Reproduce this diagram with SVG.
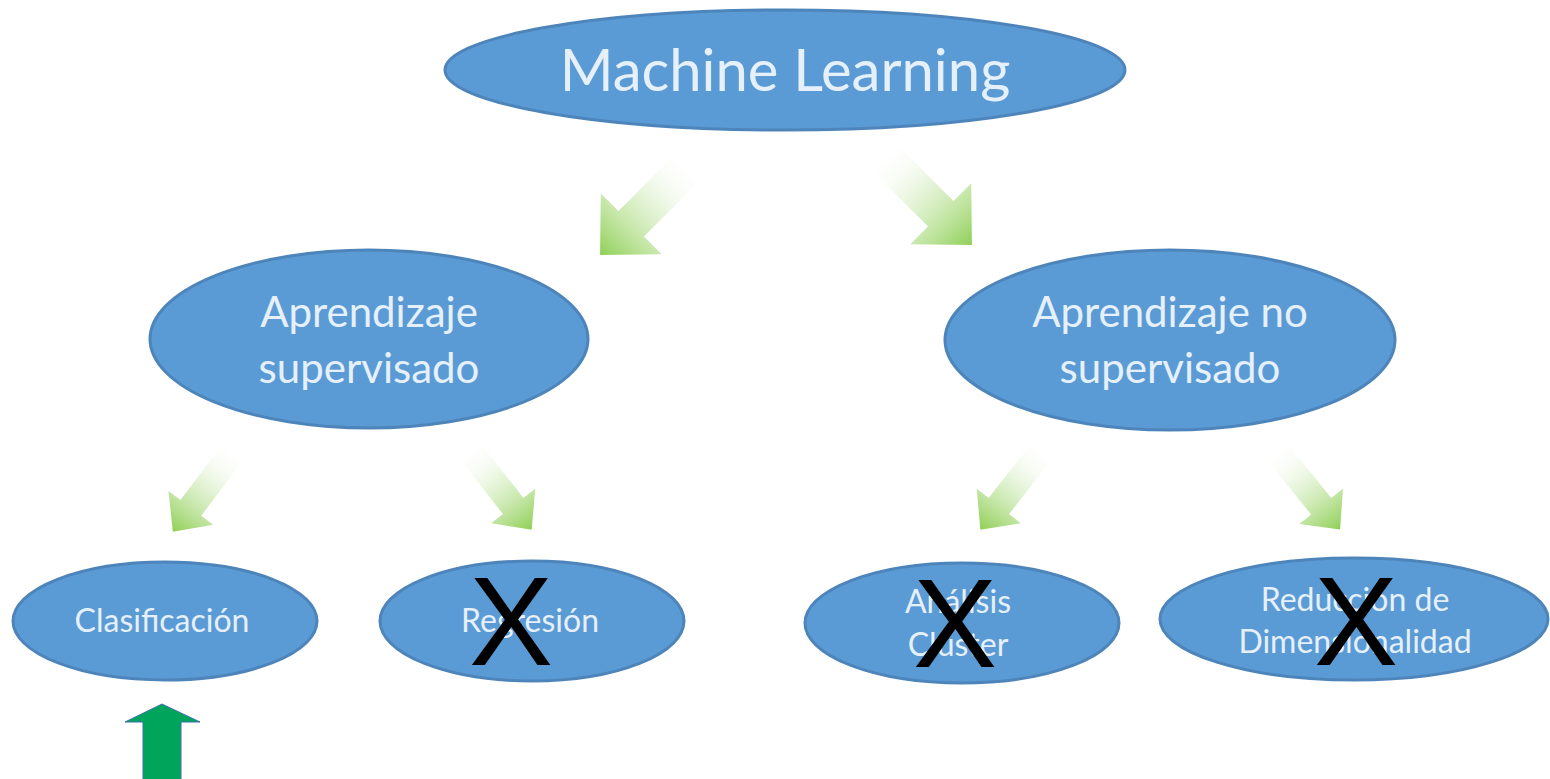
<svg xmlns="http://www.w3.org/2000/svg" width="1550" height="779" viewBox="0 0 1550 779">
<style>
.node{fill:#5b9bd5;stroke:#4d85bb;stroke-width:3}
.lbl{font-family:Lato,"Liberation Sans",sans-serif;fill:#e6f0fa;text-anchor:middle}
.x{font-family:"Liberation Sans",Arial,sans-serif;font-size:126px;fill:#000;text-anchor:middle}
.flow{fill:url(#fade)}
</style>
<defs>
<linearGradient id="fade" x1="0" y1="0" x2="1" y2="0">
<stop offset="0" stop-color="#ffffff" stop-opacity="0"/>
<stop offset="0.45" stop-color="#d3ecbd" stop-opacity="0.6"/>
<stop offset="1" stop-color="#8fcf55"/>
</linearGradient>
<path id="bigArrow" d="M0,-18 L86,-18 L86,-43 L130,0 L86,43 L86,18 L0,18 Z"/>
<path id="smallArrow" d="M0,-13 L75,-13 L75,-28 L105,0 L75,28 L75,13 L0,13 Z"/>
</defs>
<rect width="1550" height="779" fill="#ffffff"/>
<g id="connectors">
<use href="#bigArrow" class="flow" transform="translate(692,163) rotate(135)"/>
<use href="#bigArrow" class="flow" transform="translate(880,153) rotate(45)"/>
<use href="#smallArrow" class="flow" transform="translate(236,448) rotate(127)"/>
<use href="#smallArrow" class="flow" transform="translate(467,447) rotate(52)"/>
<use href="#smallArrow" class="flow" transform="translate(1045,447) rotate(128)"/>
<use href="#smallArrow" class="flow" transform="translate(1274,448) rotate(51)"/>
</g>
<g id="node-ml">
<ellipse class="node" cx="785" cy="70" rx="340" ry="60"/>
<text class="lbl" x="785" y="91" font-size="58">Machine Learning</text>
</g>
<g id="node-sup">
<ellipse class="node" cx="369" cy="339" rx="219" ry="89"/>
<text class="lbl" x="369" y="327" font-size="42">Aprendizaje</text>
<text class="lbl" x="369" y="383" font-size="42">supervisado</text>
</g>
<g id="node-nosup">
<ellipse class="node" cx="1170" cy="340" rx="225" ry="90"/>
<text class="lbl" x="1170" y="327" font-size="42">Aprendizaje no</text>
<text class="lbl" x="1170" y="383" font-size="42">supervisado</text>
</g>
<g id="node-clasificacion">
<ellipse class="node" cx="165" cy="621" rx="152" ry="59"/>
<text class="lbl" x="162" y="632" font-size="32">Clasificación</text>
</g>
<g id="node-regresion">
<ellipse class="node" cx="532" cy="621" rx="152" ry="60"/>
<text class="lbl" x="530" y="632" font-size="32">Regresión</text>
<text class="x" x="511" y="665">X</text>
</g>
<g id="node-cluster">
<ellipse class="node" cx="962" cy="623" rx="157" ry="60"/>
<text class="lbl" x="958" y="613" font-size="32">Análisis</text>
<text class="lbl" x="958" y="656" font-size="32">Clúster</text>
<text class="x" x="955" y="667">X</text>
</g>
<g id="node-reduccion">
<ellipse class="node" cx="1354" cy="619" rx="194" ry="61"/>
<text class="lbl" x="1355" y="611" font-size="32">Reducción de</text>
<text class="lbl" x="1355" y="653" font-size="32">Dimensionalidad</text>
<text class="x" x="1356" y="665">X</text>
</g>
<g id="marker-arrow">
<polygon points="162,704 200,722 181,722 181,780 143,780 143,722 125,722" fill="#00a45a" stroke="#3f6fae" stroke-width="1"/>
</g>
</svg>
